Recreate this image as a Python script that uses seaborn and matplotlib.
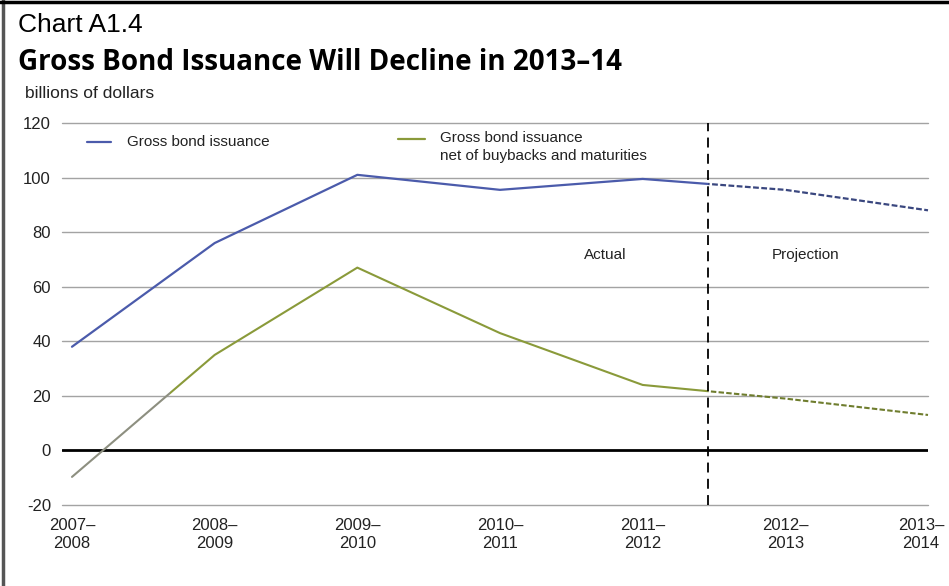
import matplotlib
matplotlib.use("Agg")
import matplotlib.pyplot as plt
from matplotlib.lines import Line2D
from matplotlib.patches import Rectangle
import matplotlib.transforms as mtransforms
import seaborn as sns
import pandas as pd

# ---- data ----
years = ["2007–\n2008", "2008–\n2009", "2009–\n2010", "2010–\n2011",
         "2011–\n2012", "2012–\n2013", "2013–\n2014"]
gross = [38, 76, 101, 95.5, 99.5, 95.5, 88]
net = [-9.7, 35, 67, 43, 24, 19, 13]
yticks = [-20, 0, 20, 40, 60, 80, 100, 120]
split_x = 4.46   # boundary between Actual and Projection
label_gross = "Gross bond issuance"
label_net = "Gross bond issuance\nnet of buybacks and maturities"

sns.set_theme(style="white")
plt.rcParams['font.family'] = ['Liberation Sans', 'DejaVu Sans']

W, H = 949, 586
fig = plt.figure(figsize=(W / 100, H / 100), dpi=100)
ax = fig.add_axes([62 / W, 1 - 505 / H, (928 - 62) / W, (505 - 123) / H])

df = pd.DataFrame({"x": range(len(years)), "gross": gross, "net": net})

BLUE = "#4b5bab"
BLUE_D = "#3a477f"
GREEN = "#8a9a3a"
GRAY = "#8d8f80"


def clipped(line, x0, x1):
    rect = Rectangle((x0, -1000), x1 - x0, 2000, transform=ax.transData,
                     facecolor="none", edgecolor="none")
    line.set_clip_path(rect)


# gridlines
for v in yticks:
    if v == 0:
        continue
    ax.axhline(v, color="#a3a3a3", lw=1.0, zorder=1, clip_on=False)
ax.axhline(0, color="black", lw=2.0, zorder=2)

# gross: solid actual, dashed projection
sns.lineplot(data=df, x="x", y="gross", ax=ax, color=BLUE, lw=1.6, zorder=4)
clipped(ax.lines[-1], -1, split_x)
sns.lineplot(data=df, x="x", y="gross", ax=ax, color=BLUE_D, lw=1.6, zorder=4,
             linestyle=(0, (2.6, 1.1)))
clipped(ax.lines[-1], split_x, 10)

# net: grayish start, solid actual, dashed projection
sns.lineplot(data=df, x="x", y="net", ax=ax, color=GRAY, lw=1.5, zorder=3)
clipped(ax.lines[-1], -1, 0.69)
sns.lineplot(data=df, x="x", y="net", ax=ax, color=GREEN, lw=1.5, zorder=3)
clipped(ax.lines[-1], 0.69, split_x)
sns.lineplot(data=df, x="x", y="net", ax=ax, color="#6f7d2e", lw=1.5, zorder=3,
             linestyle=(0, (2.6, 1.1)))
clipped(ax.lines[-1], split_x, 10)

ax.axvline(split_x, color="black", lw=1.3, linestyle=(0, (5.5, 3.5)), zorder=5)

ax.set_xlim(-0.07, len(years) - 1)
ax.set_ylim(-20, 120)
ax.set_xticks(range(len(years)))
ax.set_xticklabels(years, fontsize=12, color="#222222", linespacing=1.25)
ax.set_yticks(yticks)
ax.set_yticklabels([str(v) for v in yticks], fontsize=12, color="#222222")
ax.tick_params(axis="both", length=0)
ax.tick_params(axis="y", pad=8)
ax.tick_params(axis="x", pad=9)
ax.set_xlabel("")
ax.set_ylabel("")
for s in ax.spines.values():
    s.set_visible(False)
ax.grid(False)

# shift last x label slightly left so it stays inside the figure
last = ax.get_xticklabels()[-1]
last.set_transform(last.get_transform() +
                   mtransforms.ScaledTranslation(-7 / 100, 0, fig.dpi_scale_trans))


def ax_xy(px, py):
    inv = ax.transAxes.inverted()
    return inv.transform((px, H - py))


# legend (manual)
for (x0, x1, yy, col, txt, tx) in [(87, 111, 142, BLUE, label_gross, 127),
                                  (398, 425, 139, GREEN, label_net, 440)]:
    a0 = ax_xy(x0, yy)
    a1 = ax_xy(x1, yy)
    ax.add_line(Line2D([a0[0], a1[0]], [a0[1], a1[1]], transform=ax.transAxes,
                       color=col, lw=1.6, clip_on=False))
    t = ax_xy(tx, yy)
    ax.text(t[0], t[1], txt, transform=ax.transAxes, fontsize=11,
            va="top" if "\n" in txt else "center",
            ha="left", color="#222222", linespacing=1.35)

ax.texts[-1].set_position(ax_xy(440, 131))

p = ax_xy(605, 255)
ax.text(p[0], p[1], "Actual", transform=ax.transAxes, fontsize=11, ha="center", va="center",
        color="#222222")
p = ax_xy(806, 255)
ax.text(p[0], p[1], "Projection", transform=ax.transAxes, fontsize=11, ha="center", va="center",
        color="#222222")

# titles
fig.text(18 / W, 1 - 25 / H, "Chart A1.4", fontsize=19, ha="left", va="center", color="black")
fig.text(18 / W, 1 - 62 / H, "Gross Bond Issuance Will Decline in 2013–14", fontsize=20,
         fontweight="bold", family=["Open Sans", "DejaVu Sans"], ha="left", va="center",
         color="black")
fig.text(25 / W, 1 - 93 / H, "billions of dollars", fontsize=12.5, ha="left", va="center",
         color="#222222")

# frame
fig.add_artist(Line2D([3 / W, 3 / W], [0, 1], transform=fig.transFigure, color="#555555", lw=2.5))
fig.add_artist(Line2D([0, 1], [1 - 2 / H, 1 - 2 / H], transform=fig.transFigure, color="black",
                      lw=2.5))

fig.savefig("out.png", dpi=100)
